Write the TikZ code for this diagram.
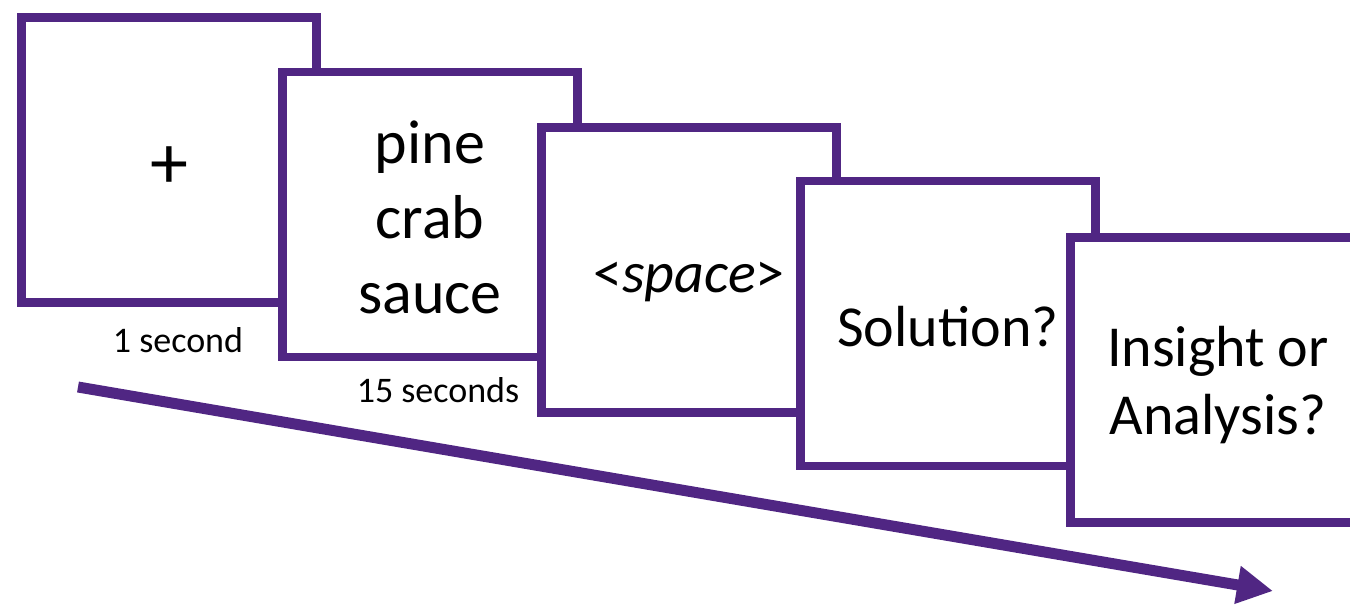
\documentclass[tikz,border=0pt]{standalone}
\usepackage{fontspec}
\setmainfont{Carlito}
\usetikzlibrary{arrows.meta}
\definecolor{purp}{RGB}{80,38,131}
% lower a one-line text inside its frame, keeping the frame in place
\newcommand{\lowerby}[2]{\raisebox{-#1}[\height][\depth]{#2}}

\begin{document}
\begin{tikzpicture}[x=1pt,y=-1pt,
    screen/.style={draw=purp,fill=white,line width=8.5pt,minimum width=295pt,
      minimum height=285pt,inner sep=0pt,align=center,font=\fontsize{58}{68}\selectfont},
    timing/.style={anchor=base,font=\fontsize{36}{43}\selectfont},
    timeline/.style={draw=purp,line width=11pt,-{Triangle[length=36pt,width=36pt]}}]
  \clip (0,0) rectangle (1350,607);
  \node[screen,font=\fontsize{76}{80}\selectfont] (fixation) at (169,160) {\lowerby{8pt}{+}};
  \node[screen,font=\fontsize{62}{75}\selectfont] (words) at (430,214.5) {\rule{0pt}{49pt}pine\\crab\\sauce};
  \node[screen] (space) at (689,270) {\lowerby{12pt}{<\textit{space}>}};
  \node[screen] (solution) at (948,323.5) {\lowerby{3pt}{Solution?}};
  \node[screen] (insight) at (1218,380) {\rule{0pt}{50pt}Insight or\\Analysis?};

  \node[timing] (fixtime) at (178,352) {1 second};
  \node[timing] (wordtime) at (438,402) {15 seconds};

  \coordinate (start) at (78,387);
  \coordinate (end) at (1273,591);
  \draw[timeline] (start) -- (end);
\end{tikzpicture}
\end{document}
